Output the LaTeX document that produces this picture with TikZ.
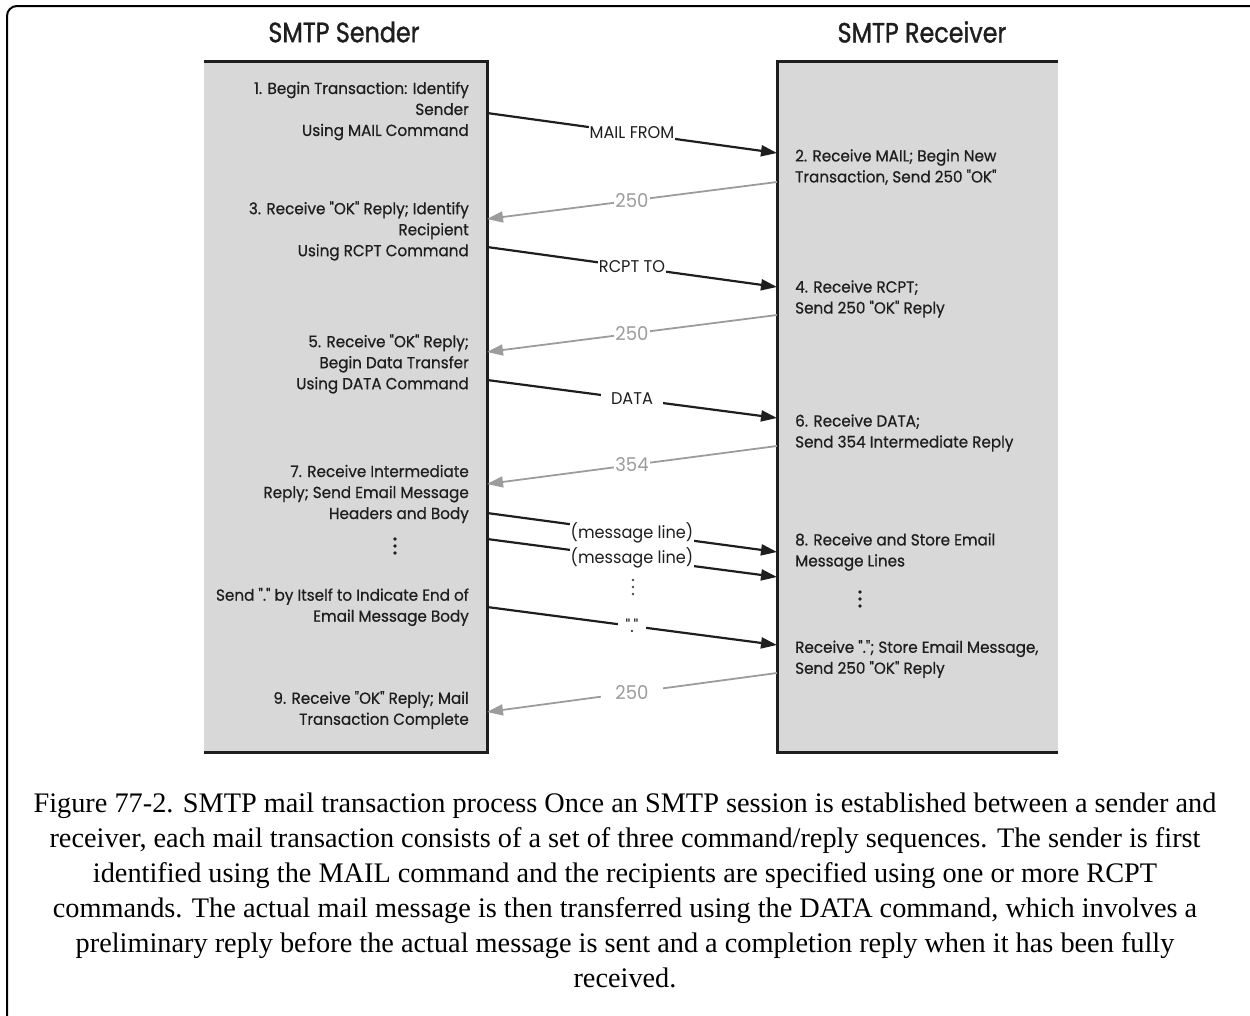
\documentclass[tikz,border=0pt]{standalone}
\usepackage{fontspec}
\setmainfont{Liberation Serif}
\newfontfamily\futfont[FakeStretch=0.95, FakeBold=0.6]{Poppins}
\newfontfamily\futlight[FakeStretch=0.95]{Poppins}
\newfontfamily\futtitle[FakeStretch=0.85, FakeBold=1.2]{Poppins}
\usetikzlibrary{arrows.meta}
\definecolor{boxgray}{HTML}{D8D8D8}
\definecolor{replygray}{HTML}{9C9C9C}
\definecolor{inkblack}{HTML}{1E1E1E}
\tikzset{
  boxline/.style={line width=3pt, inkblack},
  sendtxt/.style={anchor=east, align=right, inner sep=0pt, text=inkblack,
    font=\futfont\fontsize{16}{21}\selectfont},
  recvtxt/.style={anchor=west, align=left, inner sep=0pt, text=inkblack,
    font=\futfont\fontsize{16}{21}\selectfont},
  titletxt/.style={inner sep=0pt, text=inkblack, font=\futtitle\fontsize{28}{30}\selectfont},
  cmdarrow/.style={-{Triangle[length=16pt,width=11pt]}, line width=2.2pt, inkblack},
  replyarrow/.style={-{Triangle[length=16pt,width=11pt]}, line width=1.8pt, replygray},
  cmdlbl/.style={fill=white, inner sep=1pt, text=inkblack,
    font=\futlight\fontsize{17}{18}\selectfont},
  replylbl/.style={fill=white, inner sep=1pt, text=replygray,
    font=\futlight\fontsize{19}{20}\selectfont}
}

\begin{document}
\begin{tikzpicture}[x=1pt, y=-1pt]
    \useasboundingbox (0,0) rectangle (1250,1015);

    % Outer frame
    \draw[line width=2pt, rounded corners=10pt] (7,1030) -- (7,6) -- (1265,6);

    % Sender box
    \fill[boxgray] (204,61) rectangle (487,752);
    \draw[boxline] (204,61) -| (487,752) -- (204,752);
    \node[titletxt] (sender) at (344,32) {SMTP Sender};

    % Receiver box
    \fill[boxgray] (777,61) rectangle (1058,752);
    \draw[boxline] (1058,61) -| (777,752) -- (1058,752);
    \node[titletxt] (receiver) at (922,32) {SMTP Receiver};

    % Sender steps
    \node[sendtxt] (step1) at (469,111) {1. Begin Transaction: Identify\\Sender\\Using MAIL Command};
    \node[sendtxt] (step3) at (469,231) {3. Receive "OK" Reply; Identify\\Recipient\\Using RCPT Command};
    \node[sendtxt] (step5) at (469,364) {5. Receive "OK" Reply;\\Begin Data Transfer\\Using DATA Command};
    \node[sendtxt] (step7) at (469,494) {7. Receive Intermediate\\Reply; Send Email Message\\Headers and Body};
    \node[sendtxt] (stepend) at (469,607) {Send "." by Itself to Indicate End of\\Email Message Body};
    \node[sendtxt] (step9) at (469,710) {9. Receive "OK" Reply; Mail\\Transaction Complete};

    % Receiver steps
    \node[recvtxt] (step2) at (795,167) {2. Receive MAIL; Begin New\\Transaction, Send 250 "OK"};
    \node[recvtxt] (step4) at (795,299) {4. Receive RCPT;\\Send 250 "OK" Reply};
    \node[recvtxt] (step6) at (795,433) {6. Receive DATA;\\Send 354 Intermediate Reply};
    \node[recvtxt] (step8) at (795,552) {8. Receive and Store Email\\Message Lines};
    \node[recvtxt] (stepstore) at (795,659) {Receive "."; Store Email Message,\\Send 250 "OK" Reply};

    % Vertical dots
    \foreach \dx/\dy in {395/546, 860/599} {
      \foreach \k in {-7,0,7}
        \fill[inkblack] (\dx,\dy+\k) circle (1.9pt);
    }
    \foreach \k in {-7,0,7}
      \fill[inkblack!80] (633,587+\k) circle (1.3pt);

    % Ends of the arrows on the box edges
    \coordinate (mailS) at (487,113);  \coordinate (mailR) at (777,153);
    \coordinate (ok1R) at (777,182);   \coordinate (ok1S) at (487,219);
    \coordinate (rcptS) at (487,247);  \coordinate (rcptR) at (777,287);
    \coordinate (ok2R) at (777,315);   \coordinate (ok2S) at (487,352);
    \coordinate (dataS) at (487,380);  \coordinate (dataR) at (777,418);
    \coordinate (interR) at (777,446); \coordinate (interS) at (487,484);
    \coordinate (lineaS) at (487,513); \coordinate (lineaR) at (777,552);
    \coordinate (linebS) at (487,539); \coordinate (linebR) at (777,577);
    \coordinate (dotS) at (487,607);   \coordinate (dotR) at (777,645);
    \coordinate (ok3R) at (777,673);   \coordinate (ok3S) at (487,712);

    % Commands and replies
    \draw[cmdarrow] (mailS) -- node[cmdlbl] (mailfrom) {MAIL FROM} (mailR);
    \draw[replyarrow] (ok1R) -- node[replylbl] (reply1) {250} (ok1S);
    \draw[cmdarrow] (rcptS) -- node[cmdlbl] (rcptto) {RCPT TO} (rcptR);
    \draw[replyarrow] (ok2R) -- node[replylbl] (reply2) {250} (ok2S);
    \draw[cmdarrow] (dataS) -- node[cmdlbl, inner xsep=10pt] (data) {DATA} (dataR);
    \draw[replyarrow] (interR) -- node[replylbl] (reply3) {354} (interS);
    \draw[cmdarrow] (lineaS) -- node[cmdlbl] (msgline1) {(message line)} (lineaR);
    \draw[cmdarrow] (linebS) -- node[cmdlbl] (msgline2) {(message line)} (linebR);
    \draw[cmdarrow] (dotS) -- node[cmdlbl, inner xsep=8pt] (enddot) {"."} (dotR);
    \draw[replyarrow] (ok3R) -- node[replylbl, inner xsep=14pt] (reply4) {250} (ok3S);

    % Caption
    \node[align=center, inner sep=0pt, font=\fontsize{28.3}{35}\selectfont] (caption) at (625,890)
      {Figure 77-2. SMTP mail transaction process Once an SMTP session is established between a sender and\\
       receiver, each mail transaction consists of a set of three command/reply sequences. The sender is first\\
       identified using the MAIL command and the recipients are specified using one or more RCPT\\
       commands. The actual mail message is then transferred using the DATA command, which involves a\\
       preliminary reply before the actual message is sent and a completion reply when it has been fully\\
       received.};
\end{tikzpicture}
\end{document}
